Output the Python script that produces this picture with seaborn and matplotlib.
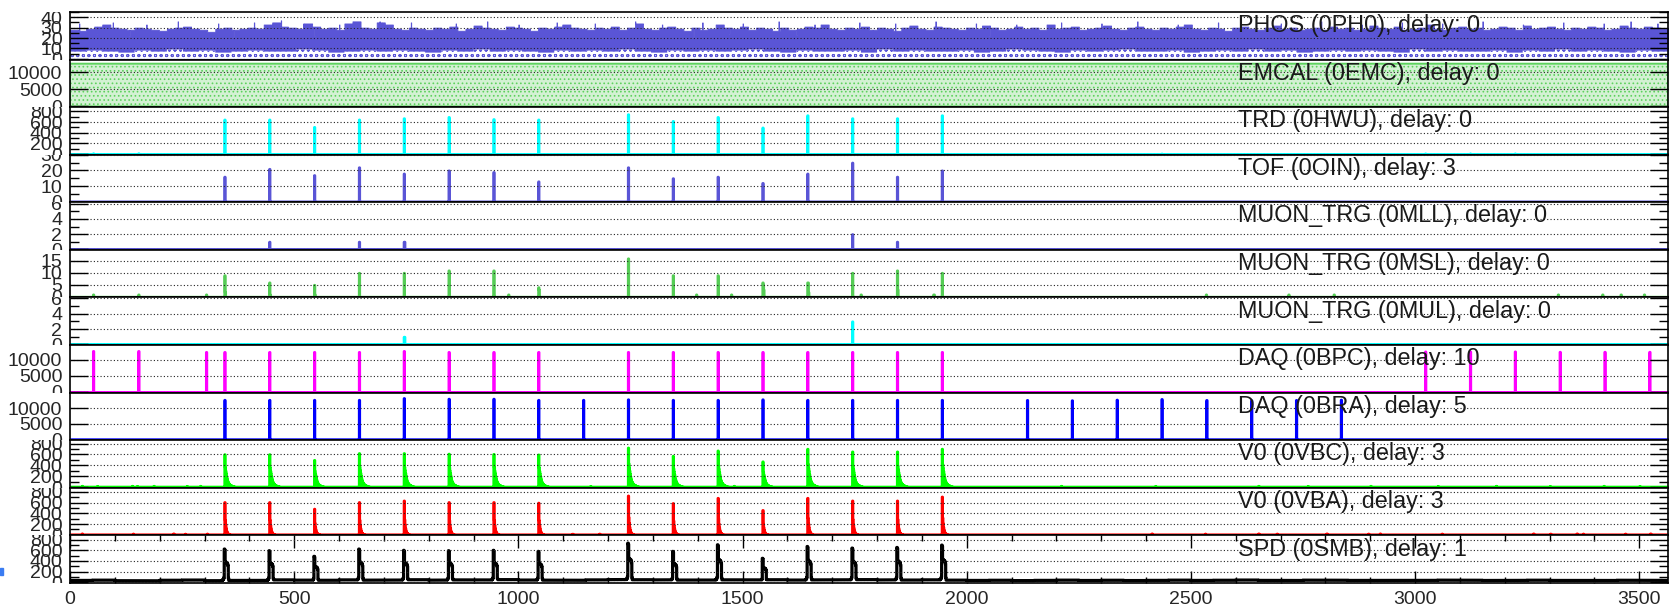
import numpy as np
import pandas as pd
import seaborn as sns
import matplotlib.pyplot as plt
from matplotlib.transforms import Bbox, TransformedBbox
from matplotlib.patches import Rectangle

# ---------------------------------------------------------------- data ----
N_BC = 3564  # bunch-crossing slots in one LHC orbit

# colliding bunch slots
colliding = [344, 444, 544, 644, 744, 844, 944, 1044,
             1244, 1344, 1444, 1544, 1644, 1744, 1844, 1944]
bpc_early = [51, 152, 303]
bpc_late = [3022, 3122, 3222, 3322, 3422, 3522]
bra_extra = [1144, 2134, 2234, 2334, 2434, 2534, 2634, 2734, 2834]

# PHOS: counts per 18-slot block, single-slot spikes and dips,
# hatched low component per 36-slot block
phos_block = 18
phos_levels = [
    28, 27, 29, 31, 33, 30, 29, 28, 30, 29, 28, 27, 29, 30, 31, 29, 28, 26, 29, 30, 28, 29,
    30, 29, 33, 35, 31, 30, 29, 34, 31, 29, 30, 28, 34, 36, 30, 29, 35, 33, 29, 28, 30, 29,
    28, 30, 29, 31, 27, 29, 32, 30, 29, 28, 31, 30, 29, 27, 30, 29, 31, 33, 30, 29, 28, 30,
    29, 31, 28, 30, 34, 29, 28, 30, 31, 29, 27, 30, 28, 29, 33, 30, 29, 31, 28, 30, 29, 27,
    30, 28, 29, 31, 30, 33, 29, 28, 30, 29, 31, 28, 30, 29, 27, 30, 32, 29, 28, 31, 30, 29,
    28, 30, 29, 32, 30, 28, 29, 31, 29, 30, 28, 33, 29, 30, 31, 28, 29, 30, 32, 29, 28, 30,
    31, 29, 28, 30, 29, 31, 33, 29, 28, 30, 29, 27, 30, 31, 29, 28, 30, 32, 29, 30, 28, 29,
    30, 28, 31, 29, 30, 28, 29, 32, 30, 29, 31, 28, 29, 30, 33, 29, 28, 30, 31, 29, 30, 28,
    29, 31, 30, 28, 32, 29, 30, 31, 29, 28, 30, 29, 31, 30, 28, 29, 32, 30, 29, 31, 30, 29,
]
phos_spike_pos = [20, 95, 170, 240, 330, 410, 470, 520, 600, 690, 760, 860, 930, 1000,
                  1085, 1170, 1260, 1320, 1410, 1500, 1580, 1660, 1760, 1840, 1930, 2020,
                  2110, 2210, 2300, 2380, 2470, 2560, 2700, 2790, 2880, 2970, 3060, 3150,
                  3240, 3330, 3420, 3480, 3540]
phos_spike_val = [34, 35, 33, 36, 34, 35, 37, 34, 33, 36, 35, 34, 36, 33,
                  35, 34, 36, 33, 35, 34, 36, 33, 35, 34, 36, 34,
                  33, 35, 34, 36, 33, 35, 34, 36, 33, 35, 34, 36,
                  33, 35, 34, 36, 34]
phos_dip_pos = [60, 132, 283, 364, 450, 545, 695, 820, 1010, 1130, 1390, 1470, 1620,
                1790, 2050, 2160, 2480, 2620, 2890, 3010, 3300, 3450]
phos_dip_val = [24, 22, 23, 21, 24, 22, 23, 24, 22, 23, 21, 24, 23,
                22, 22, 24, 21, 23, 22, 24, 22, 23]
phos_low_block = 36
phos_low_levels = [
    7, 8, 7, 6, 8, 7, 9, 7, 8, 6, 7, 8, 7, 7, 9, 8, 6, 7, 8, 7,
    8, 7, 6, 8, 7, 9, 7, 8, 7, 6, 8, 7, 8, 7, 9, 7, 6, 8, 7, 8,
    7, 8, 9, 7, 6, 8, 7, 7, 8, 6, 9, 7, 8, 7, 7, 8, 6, 7, 9, 8,
    7, 6, 8, 7, 8, 9, 7, 7, 8, 6, 7, 8, 7, 9, 7, 8, 6, 7, 8, 7,
    8, 7, 6, 9, 7, 8, 7, 7, 8, 6, 8, 7, 9, 7, 8, 7, 6, 8, 7,
]

emc_level = 12500

trd_counts = [649, 649, 510, 649, 673, 697, 657, 649,
              748, 622, 697, 499, 729, 673, 673, 729]
trd_small_pos = [51, 152, 2434, 3022, 3122, 3222]
trd_small_val = [15, 15, 10, 12, 12, 12]

tof_counts = [16, 21, 17, 22, 18, 20, 19, 13,
              22, 15, 16, 12, 18, 25, 16, 20]

mll_pos = [444, 644, 744, 745, 1744, 1844]
mll_val = [1, 1, 1, 1, 2, 1]

msl_counts = [9, 6, 5, 10, 10, 11, 11, 4,
              16, 9, 9, 6, 6, 10, 11, 10]
msl_small_pos = [51, 152, 303, 345, 445, 545, 977, 1045, 1396, 1474, 1545, 1546,
                 1645, 1646, 1763, 1845, 1925, 1926, 2533, 2717, 2818, 3318, 3417, 3458, 3510]
msl_small_val = [1, 1, 1, 2, 1, 1, 1, 3, 1, 1, 5, 3,
                 6, 2, 1, 3, 1, 1, 1, 1, 1, 1, 1, 1, 1]

mul_pos = [744, 745, 1744]
mul_val = [1, 1, 3]

bpc_early_counts = [12700, 12700, 12400]
bpc_main_counts = [12400, 12400, 12400, 12400, 12700, 12400, 12400, 12400,
                   12400, 12400, 12400, 12400, 12400, 12400, 12400, 12400]
bpc_late_counts = [12550, 12550, 12550, 12450, 12450, 12450]

bra_main_counts = [12640, 12640, 12640, 12640, 13200, 13000, 13000, 12640,
                   12800, 12640, 12640, 12800, 12640, 12640, 12640, 12640]
bra_extra_counts = [12640, 12600, 12500, 12700, 12900, 12600, 12500, 12600, 12700]

vbc_counts = [605, 605, 500, 625, 625, 615, 610, 600,
              727, 575, 673, 473, 705, 655, 655, 705]
vbc_base = 10
vbc_bump_pos = [26, 60, 138, 149, 186, 260, 290, 1160, 1480, 2210, 2420, 2650,
                2760, 2900, 3050, 3180, 3300, 3420, 3500]
vbc_bump_val = [25, 22, 25, 22, 25, 22, 25, 22, 25, 25, 22, 25,
                22, 25, 22, 25, 22, 25, 22]

vba_counts = [611, 611, 487, 611, 640, 611, 611, 600,
              733, 592, 690, 463, 690, 640, 640, 714]
vba_base = 4
vba_bump_pos = [26, 140, 230, 256, 305, 1120, 1180, 2412, 2531, 2650, 2691, 2802,
                2895, 2921, 3059, 3263, 3301, 3360, 3374, 3468, 3524]
vba_bump_val = [25, 22, 25, 20, 22, 20, 22, 25, 22, 25, 22, 25,
                22, 25, 22, 25, 22, 25, 22, 22, 25]

spd_counts = [624, 593, 487, 624, 600, 593, 600, 580,
              735, 580, 704, 450, 672, 642, 654, 698]
spd_block = 50
spd_base_levels = [
    35, 40, 30, 28, 38, 42, 30, 35, 33, 45, 40, 38, 45, 40, 42, 48, 40, 45, 44, 50,
    42, 40, 38, 45, 50, 48, 45, 42, 40, 46, 44, 48, 42, 45, 47, 50, 44, 42, 46, 40,
    35, 38, 32, 36, 40, 34, 38, 33, 36, 40, 35, 38, 42, 36, 34, 40, 38, 35, 33, 37,
    36, 40, 38, 34, 36, 39, 35, 37, 34, 38, 36, 35,
]

# pulse shapes after a filled slot: (slot offset, fraction of peak)
spike_shape = [(0, 1.0)]
vbc_shape = list(zip(range(24), [1, .6, .5, .42, .34, .27, .21, .17, .14, .12, .1, .085,
                                 .075, .065, .055, .05, .045, .04, .035, .03, .025, .02, .02, .015]))
vba_shape = list(zip(range(12), [1, .45, .3, .2, .13, .09, .06, .045, .035, .025, .02, .015]))
spd_shape = [(-5, .06), (-4, .07), (-3, .08), (-2, .1), (-1, .14), (0, 1.0), (1, .97),
             (2, .62), (3, .6), (4, .6), (5, .58), (6, .58), (7, .55), (8, .5), (9, .12)]

panel_labels = [
    "PHOS (0PH0), delay: 0", "EMCAL (0EMC), delay: 0", "TRD (0HWU), delay: 0",
    "TOF (0OIN), delay: 3", "MUON_TRG (0MLL), delay: 0", "MUON_TRG (0MSL), delay: 0",
    "MUON_TRG (0MUL), delay: 0", "DAQ (0BPC), delay: 10", "DAQ (0BRA), delay: 5",
    "V0 (0VBC), delay: 3", "V0 (0VBA), delay: 3", "SPD (0SMB), delay: 1",
]
x_ticks = [0, 500, 1000, 1500, 2000, 2500, 3000, 3500]


# --------------------------------------------------------------- build ----
def fill_slots(base, positions, heights, shape=spike_shape):
    counts = np.array(base, dtype=float) if np.ndim(base) else np.full(N_BC, float(base))
    for p, v in zip(positions, heights):
        for off, frac in shape:
            i = p + off
            if 0 <= i < N_BC:
                counts[i] = max(counts[i], v * frac)
    return counts


phos = np.repeat(np.array(phos_levels, float), phos_block)[:N_BC]
phos[phos_spike_pos] = phos_spike_val
phos[phos_dip_pos] = phos_dip_val
phos_low = np.repeat(np.array(phos_low_levels, float), phos_low_block)[:N_BC]
emc = np.full(N_BC, float(emc_level))
trd = fill_slots(fill_slots(0, trd_small_pos, trd_small_val), colliding, trd_counts)
tof = fill_slots(0, colliding, tof_counts)
mll = fill_slots(0, mll_pos, mll_val)
msl = fill_slots(fill_slots(0, msl_small_pos, msl_small_val), colliding, msl_counts)
mul = fill_slots(0, mul_pos, mul_val)
bpc = fill_slots(0, bpc_early + colliding + bpc_late,
                 bpc_early_counts + bpc_main_counts + bpc_late_counts)
bra = fill_slots(0, colliding + bra_extra, bra_main_counts + bra_extra_counts)
vbc = fill_slots(fill_slots(vbc_base, vbc_bump_pos, vbc_bump_val), colliding, vbc_counts, vbc_shape)
vba = fill_slots(fill_slots(vba_base, vba_bump_pos, vba_bump_val), colliding, vba_counts, vba_shape)
spd_base = np.repeat(np.array(spd_base_levels, float), spd_block)[:N_BC]
spd = fill_slots(spd_base, colliding, spd_counts, spd_shape)

# --------------------------------------------------------------- style ----
sns.set_theme(style="ticks")
plt.rcParams["font.family"] = ["Liberation Sans", "DejaVu Sans"]
plt.rcParams["hatch.linewidth"] = 0.7

W, H = 1670, 608
fig = plt.figure(figsize=(W / 100, H / 100), dpi=100)

x_left, x_right = 70 / W, 1668 / W
top_px, bottom_px = 12, 583
n_pan = 12
pan_h = (bottom_px - top_px) / n_pan

bin_centres = np.arange(N_BC) + 0.5
BLUEVIOLET = "#5a55d6"

# (counts, colour, ymax, major step, minor step, extra histplot kwargs)
panels = [
    (phos, BLUEVIOLET, 45, 10, 5, dict(edgecolor=BLUEVIOLET, linewidth=0.6)),
    (emc, "#5dd25d", 13700, 5000, None,
     dict(facecolor="#d3f1d3", edgecolor="#5dd25d", hatch="....", linewidth=1.4)),
    (trd, "#00ffff", 880, 200, 100, {}),
    (tof, BLUEVIOLET, 30, 10, 5, {}),
    (mll, BLUEVIOLET, 6.2, 2, 1, {}),
    (msl, "#55cc55", 19.5, 5, None, {}),
    (mul, "#00ffff", 6.1, 2, 1, {}),
    (bpc, "#ff00ff", 14500, 5000, None, {}),
    (bra, "#0000ff", 14900, 5000, None, {}),
    (vbc, "#00ff00", 860, 200, 100, {}),
    (vba, "#ff0000", 876, 200, 100, {}),
    (spd, "#000000", 880, 200, 100, dict(fill=False, linewidth=2.3)),
]

grid_style = dict(linestyle=(0, (1, 2)), linewidth=0.8, color="#222222")

for i, (counts, colour, ymax, major, minor, extra) in enumerate(panels):
    y_top = 1 - (top_px + i * pan_h) / H
    y_bot = 1 - (top_px + (i + 1) * pan_h) / H
    ax = fig.add_axes([x_left, y_bot, x_right - x_left, y_top - y_bot])

    kws = dict(fill=True, linewidth=2.0)
    kws.update(extra)
    sns.histplot(x=bin_centres, weights=counts, bins=N_BC, binrange=(0, N_BC),
                 element="step", color=colour, alpha=1, ax=ax, **kws)

    if i == 0:
        # hatched low-amplitude component drawn over the total
        sns.histplot(x=bin_centres, weights=phos_low, bins=N_BC, binrange=(0, N_BC),
                     element="step", fill=True, color=BLUEVIOLET, alpha=1,
                     facecolor="white", edgecolor=BLUEVIOLET, hatch="ooo",
                     linewidth=0, ax=ax)

    ax.set_xlabel("")
    ax.set_ylabel("")

    yt = np.arange(0, ymax + 1e-9, major)
    ax.set_yticks(yt)
    ax.set_yticklabels([f"{v:g}" for v in yt], fontsize=14)
    if minor:
        ax.set_yticks(np.arange(0, ymax + 1e-9, minor), minor=True)
    ax.set_xlim(0, N_BC)
    ax.set_ylim(-0.015 * ymax, ymax)

    ax.tick_params(axis="y", which="both", direction="in", left=True, right=True,
                   width=1.0, color="black", pad=5.5)
    ax.tick_params(axis="y", which="major", length=13)
    ax.tick_params(axis="y", which="minor", length=6.5)

    ax.set_axisbelow(False)
    ax.yaxis.grid(True, which="major", **grid_style)
    ax.xaxis.grid(False)

    if i == n_pan - 1:
        ax.set_xticks(x_ticks)
        ax.set_xticklabels([str(v) for v in x_ticks], fontsize=14)
        ax.set_xticks(np.arange(0, N_BC, 100), minor=True)
        ax.set_xlim(0, N_BC)
        ax.tick_params(axis="x", which="both", direction="in", bottom=True, top=True,
                       width=1.0, color="black", pad=6)
        ax.tick_params(axis="x", which="major", length=9)
        ax.tick_params(axis="x", which="minor", length=4.5)
    else:
        ax.tick_params(axis="x", which="both", bottom=False, top=False,
                       labelbottom=False)

    for sp in ax.spines.values():
        sp.set_color("black")
        sp.set_linewidth(1.2)
        sp.set_visible(True)

    ax.text(2605, 0.71 * ymax, panel_labels[i], fontsize=16.8, color="#1a1a1a",
            ha="left", va="center", zorder=2.2)

    # keep the value labels inside their own strip
    clip = TransformedBbox(Bbox([[0, y_bot], [1, y_top]]), fig.transFigure)
    for lab in ax.get_yticklabels():
        lab.set_clip_box(clip)
        lab.set_clip_on(True)

# small blue marker at the left border
fig.patches.append(Rectangle((0, 1 - 575 / H), 3 / W, 7 / H, transform=fig.transFigure,
                             color="#3a7cf2", zorder=5))

fig.savefig("out.png", dpi=100)
